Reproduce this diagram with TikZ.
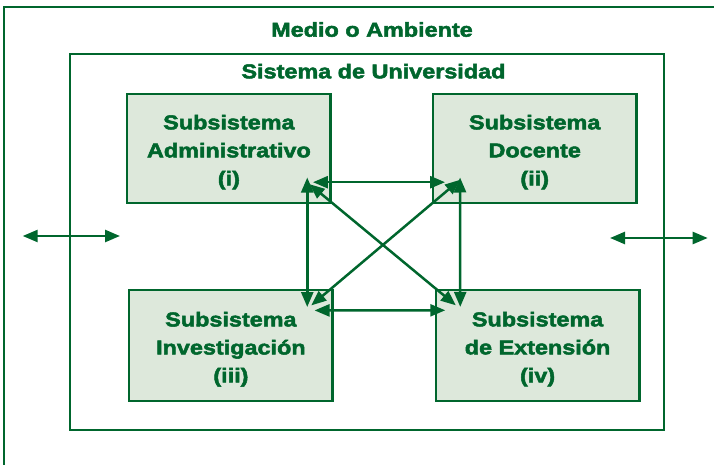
\documentclass[tikz,border=0pt]{standalone}
\usepackage{fontspec}
\setmainfont{Liberation Sans}
\newfontfamily\boxfont[FakeStretch=1.17, FakeBold=2.5]{Liberation Sans Bold}
\usetikzlibrary{arrows.meta,calc}
\definecolor{dgreen}{RGB}{0,102,45}
\definecolor{lgreen}{RGB}{221,232,219}
\tikzset{
  subbox/.style={draw=dgreen, fill=lgreen, line width=2.6pt, inner sep=0pt,
    minimum width=203.5pt, minimum height=109pt, align=center, text=dgreen,
    font=\boxfont\fontsize{20}{28}\selectfont},
  frame/.style={draw=dgreen, line width=2.2pt},
  title/.style={text=dgreen, anchor=base, inner sep=0pt,
    font=\boxfont\fontsize{20}{28}\selectfont},
  link/.style={draw=dgreen, line width=2.5pt,
    {Triangle[length=15pt,width=12pt]}-{Triangle[length=15pt,width=12pt]}},
}
\newcommand{\firstline}{\rule{0pt}{22pt}}
\begin{document}
\begin{tikzpicture}[x=1pt,y=-1pt]
\useasboundingbox (0,0) rectangle (714,465);
% outer environment frame (cut by the picture edges)
\draw[frame] (4,475) -- (4,7) -- (724,7);
\node[title] (medio) at (372,36.7) {Medio o Ambiente};
% university system frame
\node[frame, minimum width=594pt, minimum height=375.7pt, inner sep=0pt] (uni) at (367,241.85) {};
\node[title] (sist) at (373.5,78.3) {Sistema de Universidad};
% subsystems
\node[subbox] (i)   at (228.9,148.4) {\firstline Subsistema\\Administrativo\\(i)};
\node[subbox] (ii)  at (534.7,148.4) {\firstline Subsistema\\Docente\\(ii)};
\node[subbox, minimum height=111pt] (iii) at (230.9,345.5) {\firstline Subsistema\\Investigación\\(iii)};
\node[subbox, minimum height=111pt] (iv)  at (537.6,345.4) {\firstline Subsistema\\de Extensión\\(iv)};
% interactions
\draw[link] ($(i.south east)+(-19,-22)$) -- ($(ii.south west)+(13.4,-22)$);
\draw[link] ($(iii.north east)+(-19.4,21.7)$) -- ($(iv.north west)+(10.7,21.7)$);
\draw[link] ($(i.south east)+(-24.7,-26.7)$) -- ($(iii.north east)+(-26.7,18.3)$);
\draw[link] ($(ii.south west)+(28.4,-26.7)$) -- ($(iv.north west)+(25.7,18.3)$);
\draw[link] ($(i.south east)+(-22.4,-20)$) -- ($(iv.north west)+(21.3,16.7)$);
\draw[link] ($(ii.south west)+(28.4,-24.4)$) -- ($(iii.north east)+(-22.7,16.7)$);
% exchanges with the environment
\coordinate (lout) at (22.7,236);
\coordinate (lin)  at (120,236);
\coordinate (rin)  at (610,238);
\coordinate (rout) at (707.7,238);
\draw[link] (lout) -- (lin);
\draw[link] (rin) -- (rout);
\end{tikzpicture}
\end{document}
